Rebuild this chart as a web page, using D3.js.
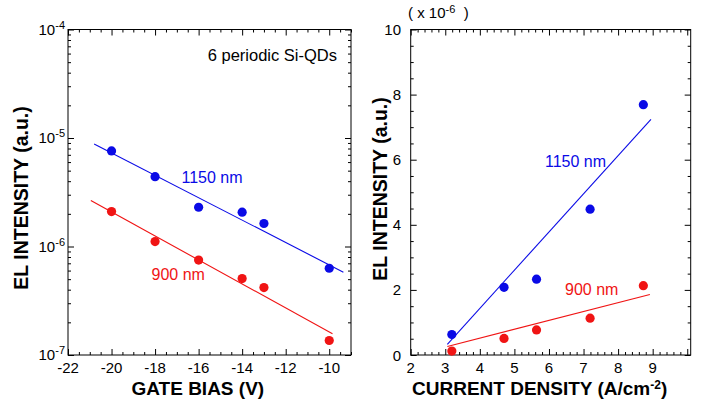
<!DOCTYPE html>
<html>
<head>
<meta charset="utf-8">
<script src="https://cdn.jsdelivr.net/npm/d3@7"></script>
<style>
  body { margin: 0; background: #fff; }
  svg { display: block; }
  text { font-family: "Liberation Sans", Arial, Helvetica, sans-serif; fill: #000; }
</style>
</head>
<body>
<svg id="chart" width="702" height="403"></svg>
<script>
// ---- Left panel: EL intensity vs gate bias (log scale) ----
const gateBias = [-20, -18, -16, -14, -13, -10];
const el1150Bias = [7.6e-6, 4.4e-6, 2.3e-6, 2.07e-6, 1.63e-6, 6.3e-7];
const el900Bias = [2.1e-6, 1.11e-6, 7.5e-7, 5.06e-7, 4.18e-7, 1.36e-7];
// fitted lines: [bias, intensity] end points
const fit1150Bias = [[-20.8, 8.8e-6], [-9.35, 5.8e-7]];
const fit900Bias = [[-20.95, 2.65e-6], [-9.85, 1.57e-7]];
const biasTicks = [-22, -20, -18, -16, -14, -12, -10];
const logExponents = [-7, -6, -5, -4];

// ---- Right panel: EL intensity vs current density (linear, x 1e-6) ----
const currentDensity = [3.19, 4.7, 5.64, 7.19, 8.73];
const el1150Current = [0.63, 2.08, 2.33, 4.48, 7.69];
const el900Current = [0.12, 0.51, 0.77, 1.13, 2.13];
const fit1150Current = [[3.06, 0.33], [8.95, 7.24]];
const fit900Current = [[3.06, 0.26], [8.92, 1.86]];
const currentTicks = [2, 3, 4, 5, 6, 7, 8, 9];
const intensityTicks = [0, 2, 4, 6, 8, 10];

const seriesLabels = ["1150 nm", "900 nm"];
const blue = "#0a0ae6", red = "#f01414";

const svg = d3.select("#chart");
const hyphen = v => String(v).replace("\u2212", "-");

function range(a, b, step) {
  const out = [];
  for (let v = a; v <= b + 1e-9; v += step) out.push(+v.toFixed(4));
  return out;
}

// draws inward ticks on all four sides of a frame
function frameAxes(g, x, y, xMajor, xMinor, yMajor, yMinor) {
  const [x0, x1] = x.range(), [y0, y1] = y.range();
  const put = (axis, tx, ty) => {
    const a = g.append("g").attr("transform", `translate(${tx},${ty})`).call(axis);
    a.select(".domain").remove();
    a.selectAll("text").remove();
    a.selectAll("line").attr("stroke", "#000").attr("stroke-width", 1);
  };
  [[xMajor, 6], [xMinor, 3]].forEach(([vals, len]) => {
    put(d3.axisBottom(x).tickValues(vals).tickSizeInner(-len).tickSizeOuter(0), 0, y0);
    put(d3.axisTop(x).tickValues(vals).tickSizeInner(-len).tickSizeOuter(0), 0, y1);
  });
  [[yMajor, 6], [yMinor, 3]].forEach(([vals, len]) => {
    put(d3.axisLeft(y).tickValues(vals).tickSizeInner(-len).tickSizeOuter(0), x0, 0);
    put(d3.axisRight(y).tickValues(vals).tickSizeInner(-len).tickSizeOuter(0), x1, 0);
  });
  g.append("rect")
    .attr("x", x0).attr("y", y1).attr("width", x1 - x0).attr("height", y0 - y1)
    .attr("fill", "none").attr("stroke", "#000").attr("stroke-width", 1);
}

function drawSeries(g, x, y, xs, ys, fit, color) {
  g.append("path")
    .datum(fit)
    .attr("d", d3.line().x(d => x(d[0])).y(d => y(d[1])))
    .attr("fill", "none").attr("stroke", color).attr("stroke-width", 1.1);
  g.selectAll(null)
    .data(xs.map((v, i) => [v, ys[i]]))
    .join("circle")
    .attr("cx", d => x(d[0])).attr("cy", d => y(d[1]))
    .attr("r", 4.6).attr("fill", color);
}

// ================= Left panel =================
{
  const g = svg.append("g");
  const x = d3.scaleLinear().domain([-22, -9]).range([68, 351]);
  const y = d3.scaleLog().domain([1e-7, 1e-4]).range([355, 29.5]);

  const logMinor = [];
  for (let e = -7; e < -4; e++) for (let m = 2; m <= 9; m++) logMinor.push(m * Math.pow(10, e));
  const biasMinor = range(-22, -9, 0.5).filter(v => !biasTicks.includes(v));
  frameAxes(g, x, y, biasTicks, biasMinor,
            logExponents.map(e => Math.pow(10, e)), logMinor);

  drawSeries(g, x, y, gateBias, el1150Bias, fit1150Bias, blue);
  drawSeries(g, x, y, gateBias, el900Bias, fit900Bias, red);

  // x tick labels
  g.selectAll(null).data(biasTicks).join("text")
    .attr("x", d => x(d)).attr("y", 373)
    .attr("text-anchor", "middle").attr("font-size", 15)
    .text(d => hyphen(d));

  // y tick labels as powers of ten
  const yl = g.selectAll(null).data(logExponents).join("text")
    .attr("x", 65).attr("y", d => y(Math.pow(10, d)) + 5)
    .attr("text-anchor", "end").attr("font-size", 15);
  yl.append("tspan").text("10");
  yl.append("tspan").attr("dy", -6).attr("font-size", 11).text(d => hyphen(d));

  g.append("text").attr("x", 131.5).attr("y", 395)
    .attr("font-size", 19).attr("font-weight", "bold").text("GATE BIAS (V)");
  g.append("text")
    .attr("transform", "translate(28,198) rotate(-90)")
    .attr("text-anchor", "middle").attr("font-size", 19.5).attr("font-weight", "bold")
    .text("EL INTENSITY (a.u.)");

  g.append("text").attr("x", 337).attr("y", 61)
    .attr("text-anchor", "end").attr("font-size", 16.5).text("6 periodic Si-QDs");
  g.append("text").attr("x", 181.5).attr("y", 182.5)
    .attr("font-size", 16).style("fill", blue).text(seriesLabels[0]);
  g.append("text").attr("x", 151.5).attr("y", 280)
    .attr("font-size", 16).style("fill", red).text(seriesLabels[1]);
}

// ================= Right panel =================
{
  const g = svg.append("g");
  const x = d3.scaleLinear().domain([2, 10.1]).range([410.7, 690.7]);
  const y = d3.scaleLinear().domain([0, 10]).range([355, 29.5]);

  const xMinor = range(2, 10, 0.2).filter(v => Math.abs(v - Math.round(v)) > 1e-6);
  const yMinor = range(0, 10, 0.5).filter(v => v % 2 !== 0);
  frameAxes(g, x, y, range(2, 10, 1), xMinor, intensityTicks, yMinor);

  drawSeries(g, x, y, currentDensity, el1150Current, fit1150Current, blue);
  drawSeries(g, x, y, currentDensity, el900Current, fit900Current, red);

  g.selectAll(null).data(currentTicks).join("text")
    .attr("x", d => x(d)).attr("y", 373)
    .attr("text-anchor", "middle").attr("font-size", 15)
    .text(d => d);
  g.selectAll(null).data(intensityTicks).join("text")
    .attr("x", 401).attr("y", d => y(d) + 5.5)
    .attr("text-anchor", "end").attr("font-size", 15)
    .text(d => d);

  const mult = g.append("text").attr("x", 408).attr("y", 18).attr("font-size", 15);
  mult.append("tspan").text("( x 10");
  mult.append("tspan").attr("dy", -5).attr("font-size", 11).text("-6");
  mult.append("tspan").attr("dy", 5).text("\u00a0\u00a0)");

  const xt = g.append("text").attr("x", 412).attr("y", 395)
    .attr("font-size", 19).attr("font-weight", "bold");
  xt.append("tspan").text("CURRENT DENSITY (A/cm");
  xt.append("tspan").attr("dy", -6.5).attr("font-size", 12).text("-2");
  xt.append("tspan").attr("dy", 6.5).text(")");

  g.append("text")
    .attr("transform", "translate(387,189) rotate(-90)")
    .attr("text-anchor", "middle").attr("font-size", 19.5).attr("font-weight", "bold")
    .text("EL INTENSITY (a.u.)");

  g.append("text").attr("x", 545).attr("y", 167)
    .attr("font-size", 16).style("fill", blue).text(seriesLabels[0]);
  g.append("text").attr("x", 565).attr("y", 295)
    .attr("font-size", 16).style("fill", red).text(seriesLabels[1]);
}
</script>
</body>
</html>
